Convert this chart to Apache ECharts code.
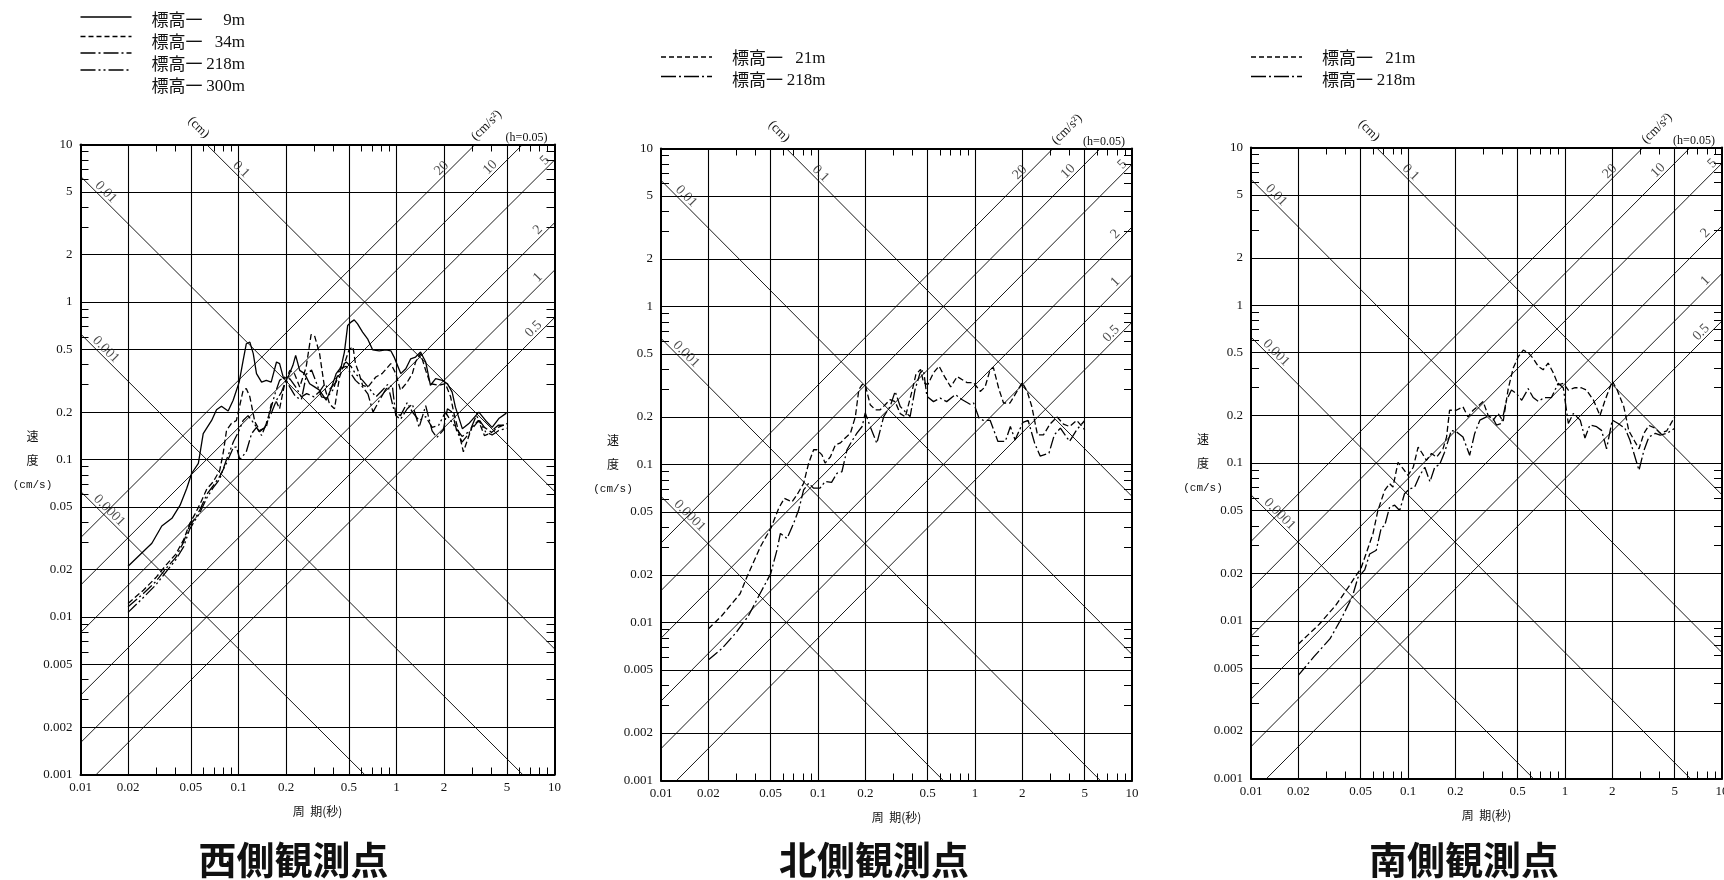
<!DOCTYPE html>
<html>
<head>
<meta charset="utf-8">
<title>速度応答スペクトル</title>
<script src="https://cdn.jsdelivr.net/npm/echarts@6/dist/echarts.min.js"></script>
<style>
  html, body { margin: 0; padding: 0; background: #fff; }
  #chart { width: 1724px; height: 880px; }
</style>
</head>
<body>
<div id="chart"></div>
<script>
// 軸の目盛
const periodTicks = [0.01, 0.02, 0.05, 0.1, 0.2, 0.5, 1, 2, 5, 10];
const periodMinor = [0.03, 0.04, 0.06, 0.07, 0.08, 0.09, 0.3, 0.4, 0.6, 0.7, 0.8, 0.9, 3, 4, 6, 7, 8, 9];
const velocityTicks = [0.001, 0.002, 0.005, 0.01, 0.02, 0.05, 0.1, 0.2, 0.5, 1, 2, 5, 10];
const velocityMinor = [0.003, 0.004, 0.006, 0.007, 0.008, 0.009, 0.03, 0.04, 0.06, 0.07, 0.08, 0.09,
                       0.3, 0.4, 0.6, 0.7, 0.8, 0.9, 3, 4, 6, 7, 8, 9];

// 変位(cm)・加速度(cm/s2)の斜線
const dispLines = [0.0001, 0.001, 0.01, 0.1];
const dispLabelT = [0.0142, 0.0135, 0.0135, 0.097];
const accLines = [0.5, 1, 2, 5, 10, 20];
const accLabelT = [7.9, 8.4, 8.4, 9.3, 4.2, 2.07];

// 西側観測点 [周期(秒), 速度(cm/s)]
const west9m = [[0.02,0.021],[0.0283,0.0294],[0.0327,0.0378],[0.0379,0.0423],[0.0427,0.0513],[0.047,0.0655],[0.0505,0.0815],[0.0557,0.0944],[0.0598,0.146],[0.0676,0.177],[0.0726,0.207],[0.078,0.218],[0.086,0.203],[0.0925,0.238],[0.101,0.31],[0.107,0.426],[0.112,0.543],[0.118,0.556],[0.124,0.47],[0.13,0.351],[0.14,0.31],[0.15,0.318],[0.161,0.31],[0.174,0.416],[0.182,0.406],[0.193,0.326],[0.206,0.334],[0.221,0.396],[0.23,0.458],[0.244,0.368],[0.262,0.351],[0.282,0.303],[0.303,0.289],[0.326,0.275],[0.359,0.238],[0.386,0.282],[0.415,0.351],[0.446,0.386],[0.468,0.481],[0.491,0.71],[0.515,0.745],[0.54,0.77],[0.567,0.727],[0.61,0.644],[0.656,0.584],[0.706,0.497],[0.778,0.49],[0.857,0.497],[0.921,0.49],[0.966,0.447],[1.064,0.351],[1.145,0.377],[1.23,0.436],[1.32,0.447],[1.42,0.481],[1.53,0.416],[1.64,0.296],[1.77,0.326],[1.95,0.318],[2.1,0.303],[2.25,0.268],[2.36,0.215],[2.61,0.157],[2.87,0.169],[3.32,0.2],[3.66,0.177],[4.03,0.16],[4.44,0.182],[4.96,0.197]];
const west34m = [[0.02,0.0122],[0.025,0.0148],[0.03,0.0178],[0.035,0.0215],[0.04,0.025],[0.045,0.031],[0.049,0.039],[0.053,0.045],[0.057,0.052],[0.063,0.065],[0.069,0.072],[0.076,0.085],[0.08,0.11],[0.084,0.153],[0.09,0.169],[0.097,0.177],[0.107,0.275],[0.112,0.282],[0.118,0.25],[0.127,0.173],[0.136,0.153],[0.15,0.16],[0.161,0.225],[0.174,0.232],[0.182,0.21],[0.196,0.303],[0.211,0.368],[0.226,0.351],[0.244,0.289],[0.268,0.386],[0.288,0.62],[0.303,0.61],[0.326,0.47],[0.35,0.289],[0.377,0.225],[0.405,0.21],[0.436,0.334],[0.468,0.406],[0.502,0.5],[0.53,0.52],[0.55,0.406],[0.58,0.351],[0.61,0.296],[0.66,0.289],[0.74,0.334],[0.81,0.351],[0.92,0.406],[0.99,0.351],[1.06,0.275],[1.17,0.31],[1.26,0.351],[1.32,0.416],[1.42,0.47],[1.53,0.368],[1.64,0.303],[1.85,0.296],[2.04,0.303],[2.2,0.25],[2.3,0.2],[2.49,0.146],[2.65,0.112],[3.0,0.16],[3.3,0.177],[3.6,0.142],[3.9,0.146],[4.4,0.16],[5.0,0.169]];
const west218m = [[0.02,0.0116],[0.025,0.0141],[0.03,0.0168],[0.035,0.0205],[0.04,0.0238],[0.045,0.03],[0.049,0.038],[0.053,0.042],[0.057,0.048],[0.063,0.06],[0.069,0.068],[0.076,0.078],[0.084,0.095],[0.093,0.12],[0.097,0.12],[0.102,0.1],[0.112,0.112],[0.121,0.146],[0.13,0.16],[0.14,0.142],[0.15,0.169],[0.161,0.196],[0.174,0.238],[0.187,0.268],[0.2,0.318],[0.211,0.326],[0.23,0.289],[0.25,0.25],[0.27,0.262],[0.3,0.25],[0.326,0.27],[0.35,0.3],[0.377,0.28],[0.415,0.31],[0.446,0.38],[0.48,0.39],[0.55,0.318],[0.61,0.289],[0.66,0.26],[0.71,0.2],[0.78,0.238],[0.857,0.28],[0.94,0.296],[0.99,0.19],[1.06,0.18],[1.17,0.21],[1.26,0.225],[1.39,0.16],[1.53,0.22],[1.68,0.152],[1.8,0.138],[1.98,0.154],[2.1,0.21],[2.25,0.2],[2.4,0.153],[2.6,0.129],[2.87,0.146],[3.2,0.19],[3.6,0.16],[3.95,0.15],[4.4,0.165],[5.0,0.165]];
const west300m = [[0.02,0.0107],[0.025,0.0133],[0.03,0.016],[0.035,0.0195],[0.04,0.023],[0.045,0.028],[0.049,0.036],[0.053,0.041],[0.057,0.046],[0.063,0.057],[0.069,0.066],[0.076,0.075],[0.084,0.1],[0.093,0.13],[0.1,0.15],[0.107,0.177],[0.115,0.19],[0.125,0.17],[0.136,0.15],[0.147,0.16],[0.158,0.2],[0.17,0.26],[0.182,0.318],[0.196,0.334],[0.211,0.289],[0.23,0.25],[0.25,0.24],[0.27,0.35],[0.29,0.37],[0.31,0.31],[0.335,0.25],[0.36,0.245],[0.4,0.28],[0.436,0.38],[0.48,0.416],[0.515,0.39],[0.55,0.35],[0.61,0.318],[0.66,0.289],[0.74,0.25],[0.8,0.27],[0.88,0.3],[0.97,0.2],[1.06,0.19],[1.17,0.23],[1.26,0.2],[1.39,0.177],[1.53,0.187],[1.68,0.16],[1.85,0.165],[2.04,0.2],[2.2,0.177],[2.36,0.16],[2.6,0.14],[2.95,0.153],[3.32,0.177],[3.66,0.15],[4.03,0.143],[4.44,0.153],[5.0,0.158]];

// 北側観測点
const north21m = [[0.02,0.0091],[0.0243,0.011],[0.0319,0.0152],[0.0353,0.0195],[0.043,0.0302],[0.05,0.0394],[0.0562,0.0528],[0.061,0.0611],[0.0683,0.058],[0.0735,0.0643],[0.081,0.076],[0.0872,0.102],[0.0938,0.124],[0.0985,0.124],[0.106,0.115],[0.111,0.102],[0.12,0.112],[0.129,0.133],[0.139,0.137],[0.149,0.147],[0.161,0.158],[0.173,0.201],[0.182,0.298],[0.191,0.32],[0.2,0.32],[0.215,0.239],[0.232,0.222],[0.249,0.222],[0.268,0.239],[0.288,0.257],[0.31,0.25],[0.334,0.21],[0.36,0.2],[0.4,0.3],[0.42,0.37],[0.45,0.4],[0.47,0.33],[0.5,0.32],[0.544,0.38],[0.59,0.42],[0.64,0.36],[0.7,0.31],[0.77,0.36],[0.89,0.33],[0.98,0.33],[1.08,0.29],[1.16,0.31],[1.25,0.4],[1.31,0.41],[1.42,0.3],[1.52,0.245],[1.67,0.245],[1.85,0.29],[2.0,0.33],[2.15,0.29],[2.3,0.233],[2.5,0.154],[2.73,0.154],[3.0,0.18],[3.33,0.2],[3.66,0.18],[4.0,0.174],[4.45,0.19],[5.0,0.166]];
const north218m = [[0.02,0.0058],[0.0243,0.0068],[0.03,0.0086],[0.036,0.011],[0.0427,0.0152],[0.05,0.0204],[0.0548,0.0288],[0.0576,0.0366],[0.0635,0.034],[0.07,0.0425],[0.0753,0.0516],[0.081,0.069],[0.0872,0.076],[0.0938,0.0708],[0.103,0.0708],[0.111,0.078],[0.122,0.077],[0.132,0.088],[0.142,0.09],[0.153,0.124],[0.164,0.14],[0.177,0.158],[0.191,0.174],[0.2,0.212],[0.215,0.174],[0.237,0.136],[0.262,0.201],[0.288,0.233],[0.31,0.29],[0.334,0.233],[0.359,0.216],[0.386,0.201],[0.415,0.298],[0.447,0.38],[0.47,0.396],[0.494,0.27],[0.544,0.25],[0.6,0.263],[0.66,0.25],[0.75,0.277],[0.83,0.257],[0.94,0.239],[0.98,0.245],[1.06,0.197],[1.13,0.19],[1.25,0.19],[1.4,0.14],[1.56,0.14],[1.68,0.174],[1.8,0.143],[2.02,0.185],[2.18,0.19],[2.4,0.136],[2.6,0.113],[2.96,0.118],[3.2,0.154],[3.5,0.17],[4.0,0.14],[4.45,0.166],[5.0,0.19]];

// 南側観測点
const south21m = [[0.02,0.0071],[0.0272,0.0095],[0.0346,0.0125],[0.0426,0.0168],[0.0457,0.0188],[0.05,0.0213],[0.054,0.0265],[0.0598,0.0356],[0.0643,0.05],[0.071,0.067],[0.0764,0.074],[0.0802,0.0704],[0.0864,0.101],[0.093,0.092],[0.1,0.0835],[0.108,0.094],[0.116,0.126],[0.122,0.117],[0.131,0.104],[0.141,0.115],[0.152,0.109],[0.167,0.123],[0.176,0.146],[0.184,0.216],[0.203,0.216],[0.224,0.227],[0.241,0.196],[0.26,0.216],[0.28,0.23],[0.301,0.245],[0.324,0.2],[0.349,0.187],[0.375,0.206],[0.404,0.184],[0.435,0.296],[0.468,0.4],[0.503,0.47],[0.542,0.52],[0.583,0.5],[0.627,0.46],[0.675,0.41],[0.726,0.39],[0.781,0.43],[0.84,0.375],[0.905,0.313],[0.975,0.32],[1.05,0.29],[1.16,0.3],[1.27,0.3],[1.37,0.29],[1.52,0.25],[1.67,0.2],[1.8,0.25],[2.0,0.33],[2.15,0.29],[2.37,0.227],[2.55,0.16],[2.75,0.14],[2.96,0.123],[3.18,0.154],[3.42,0.173],[3.76,0.166],[4.04,0.154],[4.45,0.16],[5.0,0.196]];
const south218m = [[0.02,0.0045],[0.0251,0.0059],[0.0319,0.0077],[0.0376,0.0103],[0.0443,0.0143],[0.048,0.0188],[0.053,0.021],[0.057,0.0265],[0.0628,0.028],[0.0676,0.039],[0.071,0.04],[0.0764,0.0526],[0.0822,0.054],[0.0885,0.05],[0.095,0.0638],[0.1025,0.0687],[0.11,0.07],[0.119,0.0836],[0.128,0.094],[0.138,0.076],[0.148,0.094],[0.159,0.098],[0.171,0.117],[0.189,0.161],[0.203,0.158],[0.224,0.146],[0.247,0.112],[0.266,0.154],[0.287,0.187],[0.316,0.196],[0.34,0.2],[0.366,0.174],[0.394,0.178],[0.424,0.25],[0.456,0.29],[0.49,0.276],[0.53,0.25],[0.583,0.296],[0.627,0.26],[0.675,0.246],[0.74,0.26],[0.82,0.26],[0.905,0.32],[0.975,0.3],[1.05,0.178],[1.13,0.206],[1.25,0.187],[1.34,0.144],[1.44,0.174],[1.59,0.17],[1.71,0.161],[1.84,0.123],[2.0,0.187],[2.18,0.178],[2.41,0.166],[2.59,0.14],[2.96,0.09],[3.18,0.12],[3.42,0.146],[3.76,0.154],[4.04,0.15],[4.45,0.154],[5.0,0.166]];

const titles = ['西側観測点', '北側観測点', '南側観測点'];

// 線種
const SOLID = 'solid';
const DASH = [6, 3];
const DASH_DOT = [12, 3, 2, 3];
const DASH_DOT_DOT = [12, 3, 2, 3, 2, 3];

const panelCurves = [
  [
    { label: '9m', data: west9m, dash: SOLID },
    { label: '34m', data: west34m, dash: DASH },
    { label: '218m', data: west218m, dash: DASH_DOT },
    { label: '300m', data: west300m, dash: DASH_DOT_DOT }
  ],
  [
    { label: '21m', data: north21m, dash: DASH },
    { label: '218m', data: north218m, dash: DASH_DOT }
  ],
  [
    { label: '21m', data: south21m, dash: DASH },
    { label: '218m', data: south218m, dash: DASH_DOT }
  ]
];

const panelRects = [
  { left: 80.5, top: 144.5, width: 474, height: 630 },
  { left: 661, top: 148.5, width: 471, height: 632 },
  { left: 1251, top: 147.5, width: 471, height: 631 }
];
// 凡例の位置 (線見本のy, 文字のy)
const legendRows = [
  { lineY: [17, 36.5, 53, 70], textY: [20, 42, 64, 86] },
  { lineY: [57, 76.5], textY: [57.5, 80] },
  { lineY: [57, 76.5], textY: [57.5, 80] }
];

const T_MIN = 0.01, T_MAX = 10, V_MIN = 0.001, V_MAX = 10;
const TWO_PI = 2 * Math.PI;
const LABEL_SHIFT = Math.pow(10, 0.03);

const NUM_FONT = 'Liberation Serif';
const JP_FONT = 'Noto Sans CJK JP';

function fmt(v) {
  return String(+(+v).toPrecision(3));
}

function periodAxis(gridIndex, position, withLabel) {
  return {
    type: 'log', logBase: 10, gridIndex, position, min: T_MIN, max: T_MAX,
    axisLine: { show: true, onZero: false, lineStyle: { color: '#000', width: 2 } },
    axisTick: { show: true, inside: true, length: 7, customValues: periodMinor,
                lineStyle: { color: '#000', width: 1 } },
    axisLabel: { show: withLabel, customValues: periodTicks, formatter: fmt, margin: 7,
                 fontFamily: NUM_FONT, fontSize: 13, color: '#111' },
    splitLine: { show: false },
    minorTick: { show: false },
    silent: true
  };
}

function velocityAxis(gridIndex, position, withLabel) {
  return {
    type: 'log', logBase: 10, gridIndex, position, min: V_MIN, max: V_MAX,
    axisLine: { show: true, onZero: false, lineStyle: { color: '#000', width: 2 } },
    axisTick: { show: true, inside: true, length: 8, customValues: velocityMinor,
                lineStyle: { color: '#000', width: 1 } },
    axisLabel: { show: withLabel, customValues: velocityTicks, formatter: fmt, margin: 8,
                 fontFamily: NUM_FONT, fontSize: 13, color: '#111' },
    splitLine: { show: false },
    minorTick: { show: false },
    silent: true
  };
}

function dispSegment(d) {
  const t1 = Math.max(T_MIN, TWO_PI * d / V_MAX);
  const t2 = Math.min(T_MAX, TWO_PI * d / V_MIN);
  return [[t1, TWO_PI * d / t1], [t2, TWO_PI * d / t2]];
}

function accSegment(a) {
  const t1 = Math.max(T_MIN, TWO_PI * V_MIN / a);
  const t2 = Math.min(T_MAX, TWO_PI * V_MAX / a);
  return [[t1, a * t1 / TWO_PI], [t2, a * t2 / TWO_PI]];
}

function text(x, y, str, font, align, extra) {
  align = align || 'center';
  return Object.assign({
    type: 'text', x, y, silent: true,
    style: { text: str, font, fill: '#111', align, verticalAlign: 'middle',
             textAlign: align, textVerticalAlign: 'middle' }
  }, extra || {});
}

const grids = [], xAxes = [], yAxes = [], series = [], graphics = [];

panelRects.forEach((r, i) => {
  grids.push({ left: r.left, top: r.top, width: r.width, height: r.height,
               containLabel: false, outerBoundsMode: 'none' });
  xAxes.push(periodAxis(i, 'bottom', true), periodAxis(i, 'top', false));
  yAxes.push(velocityAxis(i, 'left', true), velocityAxis(i, 'right', false));
  const xi = 2 * i, yi = 2 * i;

  // 格子線と斜線
  const gridCoords = [];
  periodTicks.slice(1, -1).forEach(t => gridCoords.push({ coords: [[t, V_MIN], [t, V_MAX]] }));
  velocityTicks.slice(1, -1).forEach(v => gridCoords.push({ coords: [[T_MIN, v], [T_MAX, v]] }));
  series.push({
    type: 'lines', coordinateSystem: 'cartesian2d', xAxisIndex: xi, yAxisIndex: yi,
    silent: true, animation: false, z: 1,
    lineStyle: { color: '#000', width: 1.1, opacity: 1, curveness: 0 },
    data: gridCoords
  });
  series.push({
    type: 'lines', coordinateSystem: 'cartesian2d', xAxisIndex: xi, yAxisIndex: yi,
    silent: true, animation: false, z: 1,
    lineStyle: { color: '#000', width: 0.9, opacity: 1, curveness: 0 },
    data: dispLines.map(d => ({ coords: dispSegment(d) }))
      .concat(accLines.map(a => ({ coords: accSegment(a) })))
  });

  // 斜線の数値
  const labelData = dispLines.map((d, k) => {
    const t = dispLabelT[k];
    return { value: [t * LABEL_SHIFT, TWO_PI * d / t * LABEL_SHIFT],
             label: { formatter: fmt(d), rotate: -45 } };
  }).concat(accLines.map((a, k) => {
    const t = accLabelT[k];
    return { value: [t / LABEL_SHIFT, a * t / TWO_PI * LABEL_SHIFT],
             label: { formatter: fmt(a), rotate: 45 } };
  }));
  series.push({
    type: 'scatter', xAxisIndex: xi, yAxisIndex: yi, symbolSize: 0, silent: true,
    animation: false, z: 4, data: labelData,
    label: { show: true, position: 'inside', fontFamily: NUM_FONT, fontSize: 14,
             color: '#222', align: 'center', verticalAlign: 'middle' }
  });

  // 応答スペクトル
  panelCurves[i].forEach(c => {
    series.push({
      type: 'line', xAxisIndex: xi, yAxisIndex: yi, data: c.data,
      showSymbol: false, symbol: 'none', silent: true, animation: false, z: 3,
      lineStyle: { color: '#000', width: 1.3, type: c.dash }
    });
  });

  // 凡例
  const rows = legendRows[i];
  panelCurves[i].forEach((c, k) => {
    const ly = rows.lineY[k];
    let dash = null;
    if (c.dash === DASH) dash = [5, 3];
    else if (c.dash !== SOLID) dash = c.dash.map((v, n) => n === 0 ? 15 : v);
    graphics.push({
      type: 'line', silent: true,
      shape: { x1: r.left, y1: ly, x2: r.left + 51, y2: ly },
      style: { stroke: '#000', lineWidth: 1.3, lineDash: dash }
    });
    const ty = rows.textY[k];
    graphics.push(text(r.left + 71, ty, '標高一', '17px "' + JP_FONT + '"', 'left'));
    graphics.push(text(r.left + 164.5, ty + 1, c.label, '17px "' + NUM_FONT + '"', 'right'));
  });

  // 軸名・単位
  const cx = r.left + r.width / 2;
  graphics.push(text(cx, r.top + r.height + 37, '周  期(秒)', '12px "' + JP_FONT + '"'));
  graphics.push(text(r.left - 48, r.top + 292, '速', '12px "' + JP_FONT + '"'));
  graphics.push(text(r.left - 48, r.top + 316, '度', '12px "' + JP_FONT + '"'));
  graphics.push(text(r.left - 48, r.top + 341, '(cm/s)', '11px "Liberation Mono"'));
  graphics.push(text(r.left + 118, r.top - 17, '(cm)', '13px "' + NUM_FONT + '"', 'center', { rotation: -Math.PI / 4 }));
  graphics.push(text(r.left + 406, r.top - 19, '(cm/s²)', '13px "' + NUM_FONT + '"', 'center', { rotation: Math.PI / 4 }));
  graphics.push(text(r.left + r.width - 28, r.top - 7, '(h=0.05)', '12px "' + NUM_FONT + '"'));

  // 観測点名
  graphics.push(text(r.left + 213, 860, titles[i], 'bold 38px "' + JP_FONT + '"'));
});

const chart = echarts.init(document.getElementById('chart'), null, { renderer: 'canvas' });
chart.setOption({
  backgroundColor: '#fff',
  animation: false,
  grid: grids,
  xAxis: xAxes,
  yAxis: yAxes,
  series: series,
  graphic: { elements: graphics }
});
</script>
</body>
</html>
